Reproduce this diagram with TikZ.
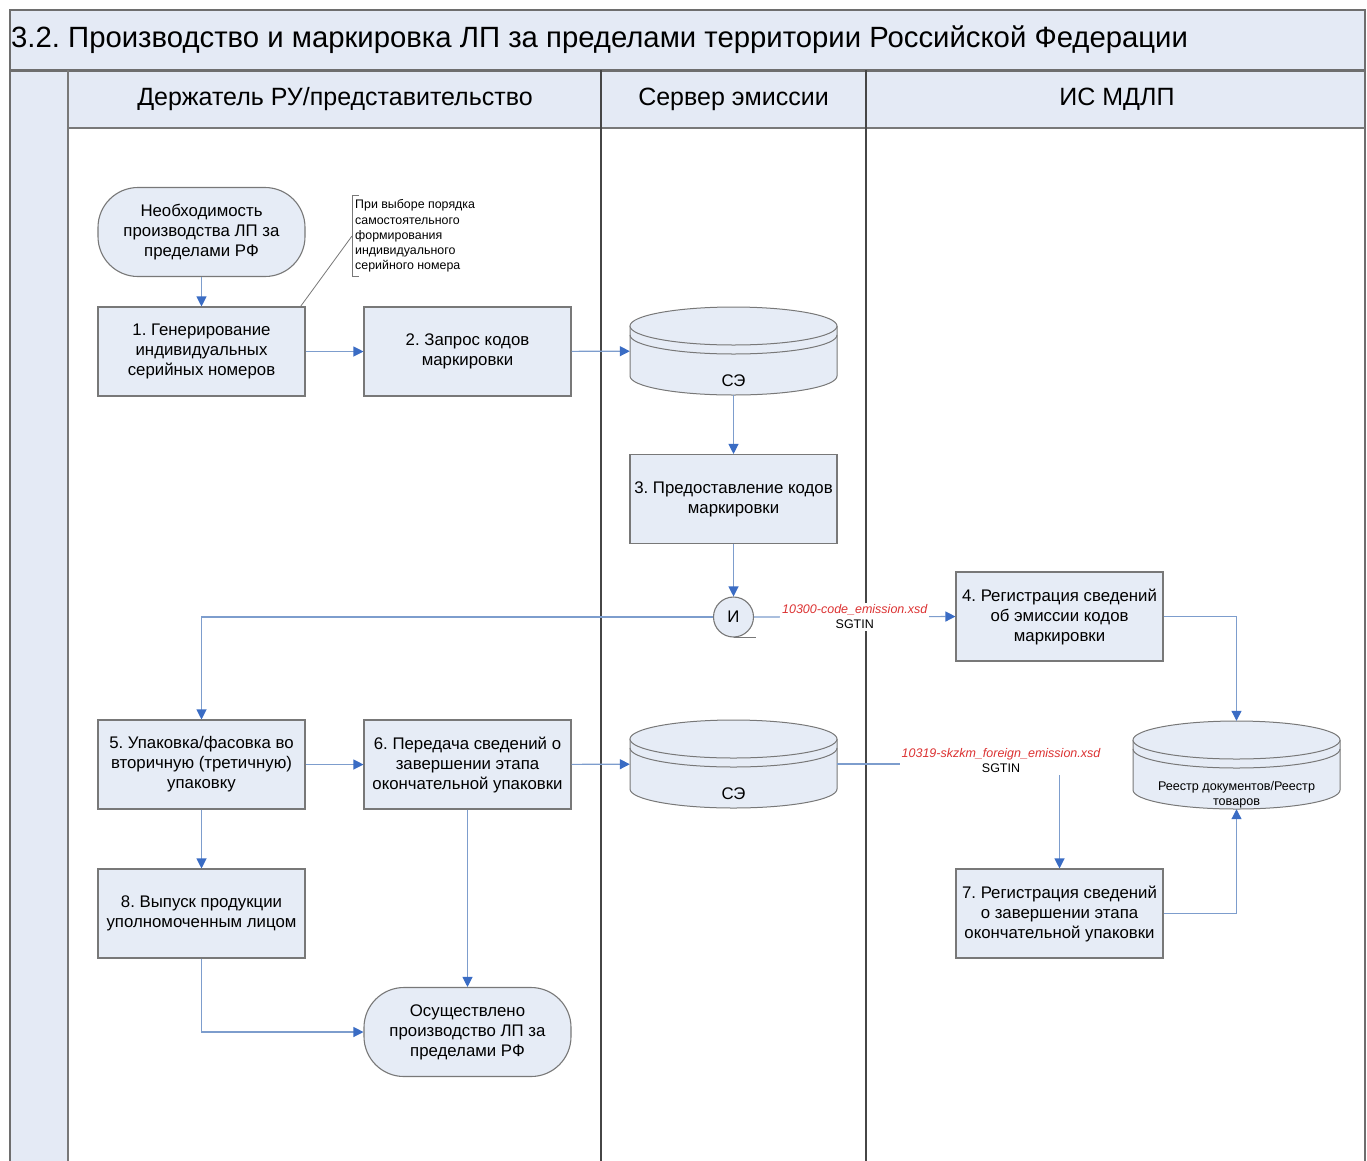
\documentclass[tikz,border=0pt]{standalone}
\usepackage{fontspec}
\setmainfont{Liberation Sans}
\usetikzlibrary{arrows.meta,calc}
\frenchspacing
\definecolor{boxfill}{RGB}{230,236,246}
\definecolor{bandfill}{RGB}{228,234,245}
\definecolor{bordergray}{RGB}{120,120,120}
\definecolor{framegray}{RGB}{110,110,110}
\definecolor{lanegray}{RGB}{70,70,70}
\definecolor{linecol}{RGB}{125,157,205}
\definecolor{headcol}{RGB}{58,108,196}
\definecolor{lblred}{RGB}{220,50,50}
\newcommand{\mycyl}[5]{%
  \pgfmathsetmacro{\cyA}{-(#3+19)}%
  \pgfmathsetmacro{\cyB}{-(#3+88-19)}%
  \pgfmathsetmacro{\cyC}{-(#3+19+9)}%
  \draw[bordergray, line width=1pt, fill=boxfill] (#2-103.5,\cyA) -- (#2-103.5,\cyB) arc[start angle=180,end angle=360,x radius=103.5,y radius=19] -- (#2+103.5,\cyA);
  \draw[bordergray, line width=1pt, fill=boxfill] (#2,\cyA) ellipse[x radius=103.5, y radius=19];
  \draw[bordergray, line width=1pt] (#2-103.5,\cyC) arc[start angle=180,end angle=360,x radius=103.5,y radius=19];
  \node[minimum width=207pt, minimum height=88pt, inner sep=0pt] (#1) at (#2,-#3-44) {};
  \node[font=#5, align=center, inner sep=0pt] (#1t) at (#2,-#3-74) {#4};
}
\tikzset{
  box/.style={draw=bordergray, fill=boxfill, line width=1.1pt, minimum width=207pt, minimum height=89pt, align=center, inner sep=2pt, font=\fontsize{16.8}{20}\selectfont},
  term/.style={box, rounded corners=40pt},
  arr/.style={draw=linecol, line width=1.1pt, -{Triangle[length=10pt,width=10pt,color=headcol]}},
  lbl/.style={fill=white, align=center, inner sep=2pt, font=\fontsize{12.5}{15}\selectfont},
  hdr/.style={font=\fontsize{25}{29}\selectfont},
}
\begin{document}
\begin{tikzpicture}[x=1pt,y=1pt]
\useasboundingbox (0,0) rectangle (1367,-1160);
% background
\fill[white] (0,0) rectangle (1367,-1160);
\fill[bandfill] (10,-10) rectangle (1365,-70);
\fill[bandfill] (10,-70) rectangle (1365,-128);
\fill[bandfill] (10,-128) rectangle (68,-1170);
% frame and lanes
\draw[framegray, line width=1.5pt] (10,-1170) -- (10,-10) -- (1365,-10) -- (1365,-1170);
\draw[framegray, line width=3pt] (10,-70) -- (1365,-70);
\draw[bordergray, line width=2pt] (68,-128) -- (1365,-128);
\draw[bordergray, line width=1.5pt] (68,-70) -- (68,-1170);
\draw[lanegray, line width=1.3pt] (601,-70) -- (601,-1170);
\draw[lanegray, line width=1.3pt] (866,-70) -- (866,-1170);
% titles
\node[anchor=west, inner sep=0pt, font=\fontsize{29.3}{34}\selectfont] (title) at (11,-40) {3.2. Производство и маркировка ЛП за пределами территории Российской Федерации};
\node[hdr] (h1) at (335,-99) {Держатель РУ/представительство};
\node[hdr] (h2) at (733.5,-99) {Сервер эмиссии};
\node[hdr] (h3) at (1117,-99) {ИС МДЛП};
% nodes
\node[term] (start) at (201.5,-232) {Необходимость\\производства ЛП за\\пределами РФ};
\node[box] (b1) at (201.5,-351.5) {1. Генерирование\\индивидуальных\\серийных номеров};
\node[box] (b2) at (467.5,-351.5) {2. Запрос кодов\\маркировки};
\mycyl{ce1}{733.5}{307}{СЭ}{\fontsize{16.8}{20}\selectfont}
\node[box] (b3) at (733.5,-499) {3. Предоставление кодов\\маркировки};
\node[draw=bordergray, fill=boxfill, line width=1.1pt, circle, minimum size=40pt, inner sep=0pt, font=\fontsize{16.8}{20}\selectfont] (gate) at (733.5,-617) {И};
\draw[bordergray, line width=1.1pt] (gate.south) -- ++(22,0);
\node[box] (b4) at (1059.5,-616.5) {4. Регистрация сведений\\об эмиссии кодов\\маркировки};
\node[box] (b5) at (201.5,-764.5) {5. Упаковка/фасовка во\\вторичную (третичную)\\упаковку};
\node[box] (b6) at (467.5,-764.5) {6. Передача сведений о\\завершении этапа\\окончательной упаковки};
\mycyl{ce2}{733.5}{720}{СЭ}{\fontsize{16.8}{20}\selectfont}
\mycyl{reg}{1236.5}{721}{Реестр документов/Реестр\\товаров}{\fontsize{12.6}{15}\selectfont}
\node[box] (b7) at (1059.5,-913.5) {7. Регистрация сведений\\о завершении этапа\\окончательной упаковки};
\node[box] (b8) at (201.5,-913.5) {8. Выпуск продукции\\уполномоченным лицом};
\node[term] (end) at (467.5,-1032) {Осуществлено\\производство ЛП за\\пределами РФ};
% annotation
\node[anchor=west, align=left, inner xsep=3pt, inner ysep=4pt, font=\fontsize{12.4}{15.25}\selectfont] (ann) at (352,-236) {При выборе порядка\\самостоятельного\\формирования\\индивидуального\\серийного номера};
\draw[bordergray, line width=0.8pt] ([xshift=7pt]ann.north west) -- (ann.north west) -- (ann.south west) -- ([xshift=7pt]ann.south west);
\draw[bordergray, line width=0.8pt] (ann.west) -- ([xshift=-5pt]b1.north east);
% connectors
\draw[arr] (start) -- (b1);
\draw[arr] (b1) -- (b2);
\draw[arr] (b2) -- (ce1);
\draw[arr] (ce1) -- (b3);
\draw[arr] (b3) -- (gate);
\draw[arr] (gate.west) -| (b5.north);
\draw[arr] (gate.east) -- (b4.west) node[lbl, midway] (l1) {\textcolor{lblred}{\itshape 10300-code\_emission.xsd}\\SGTIN};
\draw[arr] (b4.east) -| (reg.north);
\draw[arr] (b5) -- (b6);
\draw[arr] (b6) -- (ce2);
\draw[arr] (b5) -- (b8);
\draw[arr] (b6) -- (end);
\draw[arr] (b8.south) |- (end.west);
\draw[arr] (ce2.east) -| (b7.north);
\node[lbl] (l2) at (1001,-761) {\textcolor{lblred}{\itshape 10319-skzkm\_foreign\_emission.xsd}\\SGTIN};
\draw[arr] (b7.east) -| (reg.south);
\end{tikzpicture}
\end{document}
